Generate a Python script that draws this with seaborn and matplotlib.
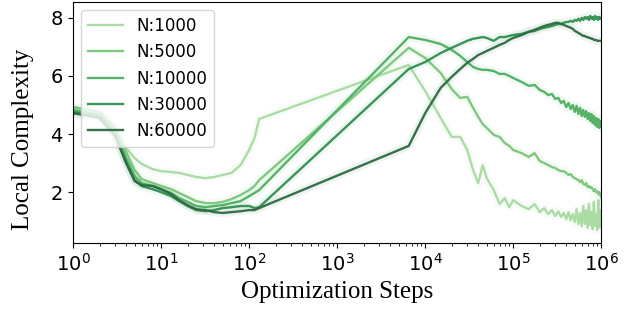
import pandas as pd
import matplotlib
matplotlib.use("Agg")
import matplotlib.pyplot as plt
import seaborn as sns

# optimization steps (checkpoints)
steps = [1, 2, 3, 4, 5, 6, 8, 10, 13, 16, 20, 25, 32, 40, 50, 63, 80, 100, 115, 130,
         6500,
         10000, 15000, 20000, 25000, 30000, 35000, 40000, 45000, 50000,
         60000, 70000, 80000, 90000, 100000,
         125000, 150000, 175000, 200000, 225000, 250000, 275000, 300000, 325000,
         350000, 375000, 400000, 425000, 450000, 475000, 500000, 525000, 550000,
         575000, 600000, 625000, 650000, 675000, 700000, 725000, 750000, 775000,
         800000, 825000, 850000, 875000, 900000, 925000, 950000, 975000, 1000000]

labels = ["N:1000", "N:5000", "N:10000", "N:30000", "N:60000"]

lc_1000 = [4.93, 4.76, 4.14, 3.52, 3.17, 2.97, 2.79, 2.72, 2.69, 2.66, 2.59, 2.52, 2.48, 2.52, 2.59, 2.66, 2.93, 3.45, 3.86, 4.52,
           6.38,
           5.48, 4.55, 3.90, 3.90, 3.45, 2.76, 2.31, 2.93, 2.48, 2.07, 1.59, 1.79, 1.48, 1.72,
           1.52, 1.41, 1.59, 1.31, 1.45, 1.24, 1.38, 1.17, 1.34, 1.14, 1.28, 1.07, 1.31, 1.03, 1.24, 0.97, 1.41, 0.90,
           1.28, 0.83, 1.52, 0.90, 1.38, 0.76, 1.59, 0.86, 1.31, 0.72, 1.66, 0.83, 1.24, 0.69, 1.72, 0.79, 1.38, 0.83]
lc_5000 = [4.93, 4.76, 4.21, 3.38, 2.76, 2.45, 2.31, 2.21, 2.10, 1.97, 1.83, 1.69, 1.62, 1.62, 1.66, 1.76, 1.90, 2.07, 2.21, 2.41,
           6.97,
           6.62, 6.10, 5.55, 5.24, 5.28, 4.90, 4.59, 4.34, 4.21, 3.97, 3.90, 3.69, 3.59, 3.45,
           3.34, 3.21, 3.34, 3.07, 3.00, 2.93, 2.86, 2.83, 2.76, 2.72, 2.72, 2.66, 2.59, 2.62, 2.52, 2.48, 2.45, 2.41,
           2.34, 2.41, 2.28, 2.24, 2.31, 2.17, 2.21, 2.14, 2.17, 2.10, 2.03, 2.10, 2.00, 2.03, 1.93, 2.00, 1.90, 1.83]
lc_10000 = [4.83, 4.66, 4.07, 3.17, 2.55, 2.31, 2.21, 2.10, 1.97, 1.79, 1.66, 1.52, 1.48, 1.52, 1.55, 1.62, 1.69, 1.86, 1.97, 2.07,
            7.34,
            7.24, 7.10, 6.90, 6.69, 6.48, 6.31, 6.24, 6.21, 6.21, 6.17, 6.07, 6.07, 6.00, 5.93,
            5.79, 5.66, 5.69, 5.52, 5.45, 5.34, 5.38, 5.21, 5.24, 5.07, 5.14, 4.93, 5.07, 4.86, 5.00, 4.76, 4.97, 4.69,
            4.90, 4.62, 4.83, 4.59, 4.79, 4.52, 4.72, 4.45, 4.69, 4.38, 4.62, 4.31, 4.55, 4.24, 4.52, 4.21, 4.45, 4.28]
lc_30000 = [4.76, 4.59, 3.97, 3.03, 2.41, 2.21, 2.10, 2.00, 1.86, 1.69, 1.52, 1.38, 1.34, 1.38, 1.45, 1.48, 1.52, 1.52, 1.45, 1.48,
            6.24,
            6.48, 6.79, 6.97, 7.10, 7.21, 7.28, 7.31, 7.34, 7.31, 7.21, 7.34, 7.34, 7.38, 7.41,
            7.45, 7.52, 7.55, 7.62, 7.66, 7.69, 7.72, 7.76, 7.79, 7.79, 7.83, 7.86, 7.86, 7.90, 7.86, 7.93, 7.90, 7.97,
            7.90, 8.00, 7.93, 8.03, 7.97, 8.03, 7.93, 8.07, 7.97, 8.03, 7.93, 8.07, 7.97, 8.03, 7.93, 8.03, 7.97, 8.00]
lc_60000 = [4.72, 4.55, 3.93, 3.00, 2.38, 2.24, 2.21, 2.10, 1.93, 1.72, 1.55, 1.41, 1.38, 1.31, 1.28, 1.31, 1.34, 1.38, 1.38, 1.45,
            3.59,
            4.72, 5.59, 5.97, 6.24, 6.45, 6.59, 6.72, 6.79, 6.86, 6.97, 7.07, 7.14, 7.24, 7.31,
            7.41, 7.52, 7.59, 7.66, 7.72, 7.76, 7.79, 7.83, 7.83, 7.79, 7.76, 7.72, 7.69, 7.66, 7.62, 7.55, 7.52, 7.48,
            7.45, 7.41, 7.38, 7.38, 7.34, 7.34, 7.31, 7.31, 7.28, 7.28, 7.24, 7.24, 7.24, 7.21, 7.21, 7.21, 7.21, 7.21]

colors = ["#a6dba0", "#78c679", "#4daf62", "#2f8f4f", "#2b6b42"]

series = [lc_1000, lc_5000, lc_10000, lc_30000, lc_60000]
df = pd.concat([pd.DataFrame({"step": steps, "lc": s, "N": lab}) for s, lab in zip(series, labels)])

fig = plt.figure(figsize=(6.25, 3.2), dpi=100)
ax = fig.add_axes([0.117, 0.241, 0.845, 0.753])

# faint halo under each line (looks like the shaded band)
sns.lineplot(data=df, x="step", y="lc", hue="N", hue_order=labels, palette=colors,
             errorbar=None, linewidth=6, alpha=0.07, legend=False, ax=ax)
sns.lineplot(data=df, x="step", y="lc", hue="N", hue_order=labels, palette=colors,
             errorbar=None, linewidth=1.7, alpha=0.95, ax=ax)

ax.set_xscale("log")
ax.set_xlim(1, 1e6)
ax.set_ylim(0.25, 8.55)
ax.set_yticks([2, 4, 6, 8])
ax.tick_params(labelsize=14, pad=4)
ax.set_xlabel("Optimization Steps", family="Liberation Serif", fontsize=18, labelpad=4)
ax.set_ylabel("Local Complexity", family="Liberation Serif", fontsize=18)
ax.yaxis.set_label_coords(-0.075, 0.43)

ax.legend(loc="upper left", fontsize=12, handlelength=2.1, borderaxespad=0.5)

fig.savefig("out.png", dpi=100)
